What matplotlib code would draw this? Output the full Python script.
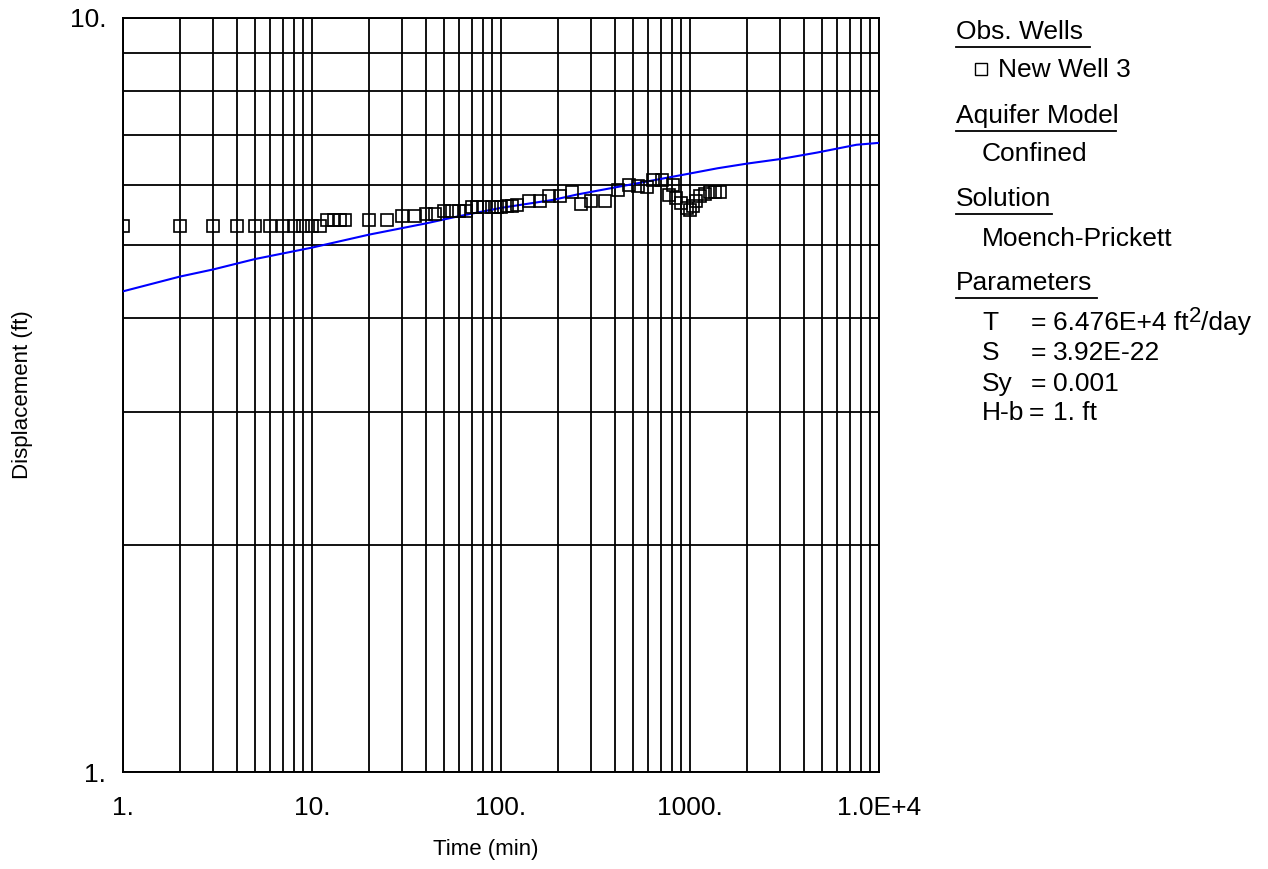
import matplotlib
matplotlib.use("Agg")
import matplotlib.pyplot as plt
from matplotlib.ticker import LogLocator, FixedLocator, NullFormatter
from matplotlib.lines import Line2D

plt.rcParams['font.family'] = ['Liberation Sans', 'DejaVu Sans']

# Observed data (New Well 3)
obs_time = [1, 2, 3, 4, 5, 6, 7, 8, 9, 10, 11, 12, 13, 14, 15, 20, 25, 30, 35, 40, 45,
            50, 55, 60, 65, 70, 75, 80, 90, 95, 100, 107, 114, 121, 140, 160, 180, 205,
            237, 265, 300, 355, 415, 475, 530, 595, 640, 710, 775, 810, 840, 900, 960,
            1000, 1040, 1080, 1130, 1200, 1280, 1350, 1440]
obs_disp = [5.30, 5.30, 5.30, 5.30, 5.30, 5.30, 5.30, 5.30, 5.30, 5.30, 5.30, 5.40, 5.40,
            5.40, 5.40, 5.40, 5.40, 5.46, 5.46, 5.50, 5.50, 5.55, 5.55, 5.55, 5.55, 5.61,
            5.61, 5.61, 5.61, 5.61, 5.61, 5.63, 5.63, 5.65, 5.71, 5.71, 5.81, 5.81, 5.88,
            5.66, 5.71, 5.71, 5.91, 6.00, 5.99, 5.96, 6.09, 6.10, 5.83, 6.00, 5.77, 5.68,
            5.59, 5.56, 5.63, 5.71, 5.81, 5.85, 5.87, 5.87, 5.87]

# Fitted Moench-Prickett curve
fit_time = [1, 2, 3, 5, 10, 20, 40, 60, 100, 190, 250, 400, 1000, 1400, 2000, 3000,
            4700, 7600, 10000]
fit_disp = [4.34, 4.54, 4.64, 4.79, 4.96, 5.16, 5.34, 5.46, 5.60, 5.74, 5.83, 5.96, 6.22,
            6.32, 6.41, 6.50, 6.63, 6.79, 6.83]

x_ticks = [1, 10, 100, 1000, 10000]
x_tick_labels = ["1.", "10.", "100.", "1000.", "1.0E+4"]
y_ticks = [1, 10]
y_tick_labels = ["1.", "10."]

W, H = 1268, 869
fig = plt.figure(figsize=(W / 100, H / 100), dpi=100)
L, R, T, B = 123, 879, 18, 772
ax = fig.add_axes([L / W, 1 - B / H, (R - L) / W, (B - T) / H])

ax.set_xscale('log')
ax.set_yscale('log')
ax.set_xlim(1, 10000)
ax.set_ylim(1, 10)

ax.plot(fit_time, fit_disp, color='#0000ff', lw=1.5, zorder=3)
ax.plot(obs_time, obs_disp, linestyle='none', marker='s', markersize=8.2,
        markerfacecolor='none', markeredgecolor='black', markeredgewidth=1.2, zorder=4)

ax.xaxis.set_major_locator(FixedLocator(x_ticks))
ax.set_xticklabels(x_tick_labels)
ax.yaxis.set_major_locator(FixedLocator(y_ticks))
ax.set_yticklabels(y_tick_labels)
ax.xaxis.set_minor_locator(LogLocator(base=10, subs=range(2, 10), numticks=20))
ax.yaxis.set_minor_locator(LogLocator(base=10, subs=range(2, 10), numticks=20))
ax.xaxis.set_minor_formatter(NullFormatter())
ax.yaxis.set_minor_formatter(NullFormatter())

ax.grid(True, which='both', color='black', lw=1.3)
ax.set_axisbelow(True)
ax.tick_params(which='both', length=0)
ax.tick_params(axis='x', pad=17, labelsize=19)
ax.tick_params(axis='y', pad=12, labelsize=19)
for s in ax.spines.values():
    s.set_linewidth(1.4)

ax.set_xlabel("Time (min)", fontsize=16)
ax.set_ylabel("Displacement (ft)", fontsize=16)
ax.xaxis.set_label_coords((486 - L) / (R - L), -(850 - B) / (B - T))
ax.yaxis.set_label_coords(-(L - 23) / (R - L), 0.5)
ax.xaxis.label.set_va('center')
ax.yaxis.label.set_va('center')

fs = 19

def ftxt(x, y, s, size=fs, **kw):
    return fig.text(x / W, 1 - y / H, s, fontsize=size, va='center', ha='left', **kw)

def header(x, y, s, w):
    ftxt(x, y, s)
    fig.add_artist(Line2D([x / W, (x + w) / W], [1 - (y + 15) / H, 1 - (y + 15) / H],
                          color='black', lw=1.3))

header(956, 32, "Obs. Wells", 134)
fig.add_artist(Line2D([981 / W], [1 - 69 / H], marker='s', markersize=8,
                      markerfacecolor='none', markeredgecolor='black', markeredgewidth=1.0,
                      linestyle='none'))
ftxt(998, 70, "New Well 3")
header(956, 116, "Aquifer Model", 160)
ftxt(982, 154, "Confined")
header(956, 199, "Solution", 96)
ftxt(982, 239, "Moench-Prickett")
header(956, 283, "Parameters", 141)

params_lbl = ["T", "S", "Sy", "H-b"]
params_val = ["6.476E+4 ft", "3.92E-22", "0.001", "1. ft"]
eq_x = [1031, 1031, 1031, 1029]
ys = [323, 353, 384, 413]
renderer = fig.canvas.get_renderer()
for lbl, val, ex, yy in zip(params_lbl, params_val, eq_x, ys):
    ftxt(982, yy, lbl)
    ftxt(ex, yy, "=")
    t = ftxt(1053, yy, val)
    if lbl == "T":
        bb = t.get_window_extent(renderer=renderer)
        x_end = bb.x1
        t2 = ftxt(x_end, yy - 7, "2", size=16)
        bb2 = t2.get_window_extent(renderer=renderer)
        ftxt(bb2.x1, yy, "/day")

fig.savefig("out.png", dpi=100)
